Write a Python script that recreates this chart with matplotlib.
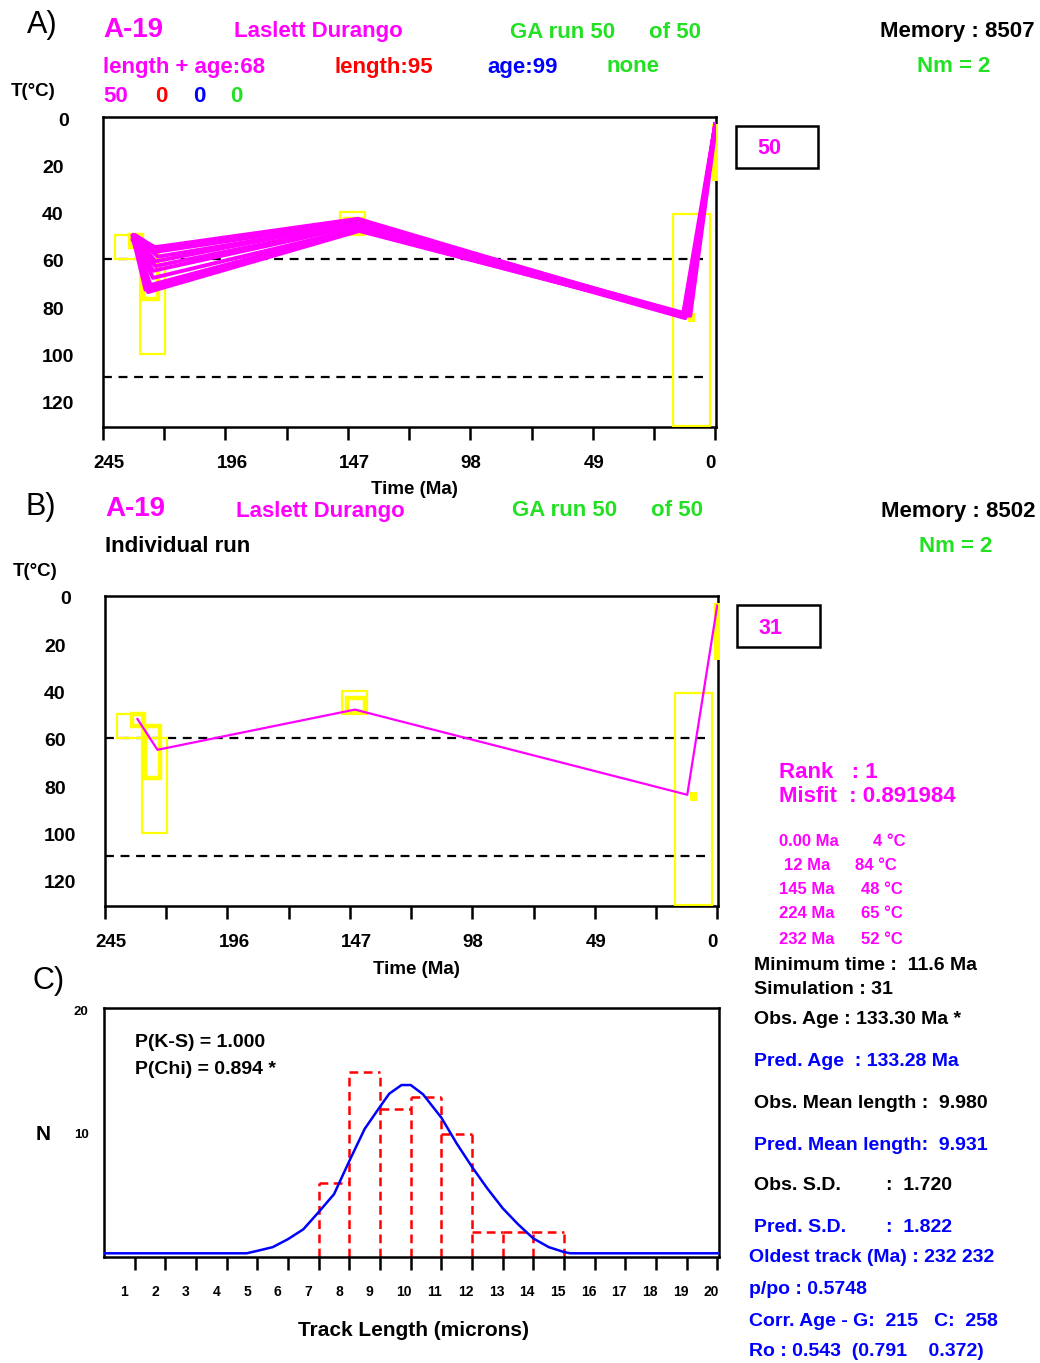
import matplotlib
matplotlib.use("Agg")
import matplotlib.pyplot as plt
import matplotlib.transforms as mtransforms
from matplotlib.patches import Rectangle

plt.rcParams['font.family'] = ['Liberation Sans', 'DejaVu Sans']
plt.rcParams['font.weight'] = 'bold'

SANS = ['Liberation Sans', 'DejaVu Sans']
MAG, GRN, BLU, RED, YEL = '#ff00ff', '#22e022', '#0000ff', '#ff0000', '#ffff00'

# ---- data -------------------------------------------------------------
time_ticks = [245, 196, 147, 98, 49, 0]
time_minor = [220.5, 171.5, 122.5, 73.5, 24.5]
temp_ticks = [0, 20, 40, 60, 80, 100, 120]
paz = [60, 110]

# constraint boxes: (t_young, t_old, T_top, T_bottom)
boxes = [(230, 240, 50, 60), (220, 230, 60, 100), (140, 150, 40, 50), (2, 17, 41, 130.5)]
thick_boxes = [(229.5, 234, 50, 55), (223, 229, 55, 77), (141, 148, 43, 49)]
filled_boxes = [(8, 11, 83, 86.5), (-1.2, 1.4, 3, 27)]

# GA run paths (panel A)
run_times = [
    [233, 224, 143, 12, 0], [232, 224, 142, 12, 0], [233, 223, 143, 12, 0],
    [232, 224, 142, 12, 0], [233, 224, 141, 12, 0], [232, 225, 143, 12, 0],
    [233, 225, 142, 12, 0], [232, 226, 141, 13, 0], [233, 228, 143, 12, 0],
    [232, 227, 142, 12, 0], [233, 226, 144, 11, 0], [232, 223, 142, 10, 0],
]
run_temps = [
    [51, 55, 43, 84, 3], [52, 57, 44, 84, 4], [50, 59, 45, 83, 3],
    [51, 61, 44, 84, 5], [52, 63, 45, 84, 4], [51, 65, 46, 85, 3],
    [50, 68, 47, 84, 4], [52, 71, 47, 84, 3], [51, 73, 48, 84, 4],
    [51, 74, 48, 84, 3], [52, 73, 47, 84, 5], [50, 56, 44, 84, 6],
]

# best run (panel B)
best_time = [232, 224, 145, 12, 0]
best_temp = [52, 65, 48, 84, 4]

# track length histogram (panel C)
bin_left = [7, 8, 9, 10, 11, 12, 13, 14]
obs_counts = [6, 15, 12, 13, 10, 2, 2, 2]
pred_x = [0, 4.65, 5.0, 5.5, 6.0, 6.5, 7.0, 7.5, 8.0, 8.5, 9.0, 9.3, 9.7, 10.0,
          10.4, 11.0, 11.5, 12.0, 12.5, 13.0, 13.5, 14.0, 14.5, 15.0, 15.2, 20.0]
pred_y = [0.3, 0.3, 0.5, 0.8, 1.45, 2.25, 3.65, 5.1, 7.8, 10.4, 12.2, 13.25, 13.95, 13.95,
          13.2, 11.3, 9.2, 7.3, 5.55, 3.95, 2.65, 1.5, 0.8, 0.4, 0.3, 0.3]
length_ticks = list(range(1, 21))

W, H = 1040, 1363
fig = plt.figure(figsize=(W / 100, H / 100), dpi=100)


def txt(x, y, s, color='black', size=16, weight='bold', ha='left'):
    fig.text(x / W, 1 - y / H, s, color=color, fontsize=size, family=SANS,
             weight=weight, ha=ha, va='center')


def frame_box(x, y, w, h):
    fig.add_artist(Rectangle((x / W, 1 - (y + h) / H), w / W, h / H, transform=fig.transFigure,
                             fill=False, lw=1.8, ec='black'))


def shift(artist, dx, dy):
    off = mtransforms.ScaledTranslation(dx / 100, -dy / 100, fig.dpi_scale_trans)
    artist.set_transform(artist.get_transform() + off)


def setup_thermal(ax):
    ax.set_xlim(245, -0.3)
    ax.set_ylim(131, 0)
    ax.set_xticks(time_ticks)
    ax.set_xticklabels([str(t) for t in time_ticks])
    ax.set_xticks(time_minor, minor=True)
    ax.tick_params(axis='x', which='both', direction='out', length=9, width=1.8, pad=11,
                   labelsize=13.5)
    # labels in the original sit a bit off their ticks
    for lab, dx in zip(ax.get_xticklabels(), [6, 7, 7, 0, 1, -5]):
        shift(lab, dx, 0)
    ax.set_yticks(temp_ticks)
    ax.set_yticklabels([str(t) for t in temp_ticks])
    ax.tick_params(axis='y', length=0, pad=44, labelsize=14)
    for lab, dx in zip(ax.get_yticklabels(), [16, 0, 0, 0, 0, 0, 0]):
        lab.set_ha('left')
        shift(lab, dx, 2)
    for sp in ax.spines.values():
        sp.set_linewidth(1.8)
    for T in paz:
        ax.plot([245, 2.5], [T, T], color='black', lw=1.6, ls=(0, (4, 3)), zorder=2)
    for (t0, t1, T0, T1) in boxes:
        ax.add_patch(Rectangle((t0, T0), t1 - t0, T1 - T0, fill=False, ec=YEL, lw=1.6, zorder=3))
    for (t0, t1, T0, T1) in thick_boxes:
        ax.add_patch(Rectangle((t0, T0), t1 - t0, T1 - T0, fill=False, ec=YEL, lw=3.2, zorder=3))
    for (t0, t1, T0, T1) in filled_boxes:
        ax.add_patch(Rectangle((t0, T0), t1 - t0, T1 - T0, fc=YEL, ec=YEL, lw=0, zorder=3,
                               clip_on=False))


# ---- panel A ----------------------------------------------------------
axA = fig.add_axes([103 / W, 1 - 427 / H, 613 / W, 310 / H])
setup_thermal(axA)
for ts, Ts in zip(run_times, run_temps):
    axA.plot(ts, Ts, color=MAG, lw=2.8, zorder=4)

txt(27, 25, 'A)', size=22, weight='normal')
txt(103, 30, 'A-19', MAG, size=20)
txt(234, 32, 'Laslett Durango', MAG)
txt(510, 32, 'GA run 50', GRN)
txt(649, 32, 'of 50', GRN)
txt(880, 32, 'Memory : 8507')
txt(103, 67, 'length + age:68', MAG)
txt(335, 67, 'length:95', RED)
txt(487, 67, 'age:99', BLU)
txt(606, 67, 'none', GRN)
txt(917, 67, 'Nm = 2', GRN)
txt(11, 91, 'T(°C)', size=13.5)
txt(103, 97, '50', MAG)
txt(155, 97, '0', RED)
txt(193, 97, '0', BLU)
txt(230, 97, '0', GRN)
txt(414, 490, 'Time (Ma)', size=13.5, ha='center')
frame_box(736, 126, 82, 42)
txt(757, 149, '50', MAG, size=15.5)

# ---- panel B ----------------------------------------------------------
axB = fig.add_axes([105 / W, 1 - 906 / H, 613 / W, 310 / H])
setup_thermal(axB)
axB.plot(best_time, best_temp, color=MAG, lw=1.6, zorder=4)

txt(25, 507, 'B)', size=22, weight='normal')
txt(105, 509, 'A-19', MAG, size=20)
txt(236, 511, 'Laslett Durango', MAG)
txt(512, 511, 'GA run 50', GRN)
txt(651, 511, 'of 50', GRN)
txt(881, 511, 'Memory : 8502')
txt(105, 546, 'Individual run')
txt(919, 546, 'Nm = 2', GRN)
txt(13, 571, 'T(°C)', size=13.5)
txt(416, 969, 'Time (Ma)', size=13.5, ha='center')
frame_box(737, 605, 83, 42)
txt(759, 628, '31', MAG, size=15.5)

txt(779, 773, 'Rank   : 1', MAG, size=16)
txt(779, 797, 'Misfit  : 0.891984', MAG, size=16)
table_rows = [('0.00 Ma', 779, '4 °C', 873, 841), ('12 Ma', 784, '84 °C', 855, 865),
              ('145 Ma', 779, '48 °C', 861, 890), ('224 Ma', 779, '65 °C', 861, 914),
              ('232 Ma', 779, '52 °C', 861, 939)]
for a, xa, b, xb, y in table_rows:
    txt(xa, y, a, MAG, size=12)
    txt(xb, y, b, MAG, size=12)

txt(754, 966, 'Minimum time :  11.6 Ma', size=14)
txt(754, 990, 'Simulation : 31', size=14)
txt(754, 1020, 'Obs. Age : 133.30 Ma *', size=14)
txt(754, 1062, 'Pred. Age  : 133.28 Ma', BLU, size=14)
txt(754, 1104, 'Obs. Mean length :  9.980', size=14)
txt(754, 1145, 'Pred. Mean length:  9.931', BLU, size=14)
txt(754, 1186, 'Obs. S.D.', size=14)
txt(886, 1186, ':  1.720', size=14)
txt(754, 1228, 'Pred. S.D.', BLU, size=14)
txt(886, 1228, ':  1.822', BLU, size=14)
txt(749, 1258, 'Oldest track (Ma) : 232 232', BLU, size=14)
txt(749, 1290, 'p/po : 0.5748', BLU, size=14)
txt(749, 1321, 'Corr. Age - G:  215   C:  258', BLU, size=14)
txt(749, 1352, 'Ro : 0.543  (0.791    0.372)', BLU, size=14)

# ---- panel C ----------------------------------------------------------
axC = fig.add_axes([104 / W, 1 - 1257 / H, 615 / W, 249 / H])
axC.set_xlim(0, 20.05)
axC.set_ylim(0, 20.2)
bin_right = [b + 1 for b in bin_left]
edges = bin_left + [bin_right[-1]]
edge_heights = [max(a, b) for a, b in zip([0] + obs_counts, obs_counts + [0])]
dash = (0, (3.5, 2.2))
axC.hlines(obs_counts, bin_left, bin_right, colors=RED, lw=1.8, linestyles=[dash], zorder=2)
axC.vlines(edges, 0, edge_heights, colors=RED, lw=1.8, linestyles=[dash], zorder=2)
axC.plot(pred_x, pred_y, color=BLU, lw=1.8, zorder=3)
axC.set_xticks(length_ticks)
axC.set_xticklabels([])
axC.tick_params(axis='x', direction='out', length=9, width=1.8)
for k in length_ticks:
    axC.text(k - 0.46, -35 / 12.4, str(k), ha='left', va='center', fontsize=10, clip_on=False)
axC.set_yticks([10, 20])
axC.set_yticklabels(['10', '20'])
axC.tick_params(axis='y', length=0, pad=11, labelsize=9.5)
for sp in axC.spines.values():
    sp.set_linewidth(1.8)
axC.text(0.05, 0.863, 'P(K-S) = 1.000', transform=axC.transAxes, fontsize=14, va='center')
axC.text(0.05, 0.755, 'P(Chi) = 0.894 *', transform=axC.transAxes, fontsize=14, va='center')

txt(33, 981, 'C)', size=22, weight='normal')
txt(43, 1134, 'N', size=15, ha='center')
txt(413, 1331, 'Track Length (microns)', size=15, ha='center')

fig.savefig('out.png', dpi=100)
